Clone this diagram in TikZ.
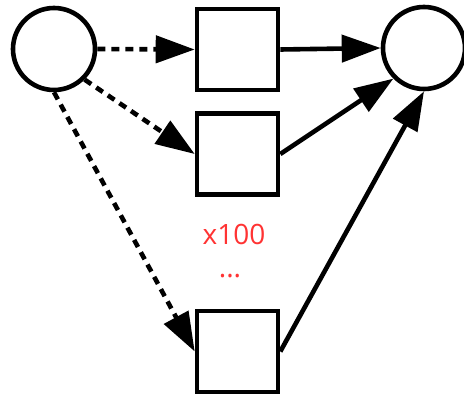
\documentclass[tikz,border=0pt]{standalone}
\usepackage{fontspec}
\setmainfont{Open Sans}
\usetikzlibrary{arrows.meta}
\definecolor{lblred}{RGB}{255,51,51}
\begin{document}
\begin{tikzpicture}[x=1pt,y=-1pt,
  lw/.style={line width=4.6pt},
  circ/.style={lw,draw,circle,minimum size=82pt,inner sep=0pt},
  sq/.style={lw,draw,rectangle,minimum size=81pt,inner sep=0pt},
  arr/.style={lw,-{Triangle[length=39pt,width=27pt]}},
  darr/.style={arr,dash pattern=on 8pt off 6pt},
  lbl/.style={text=lblred,font=\fontsize{28}{30}\selectfont,inner sep=0pt,anchor=base}]
\useasboundingbox (0,0) rectangle (464,398);
\node[circ] (src) at (54,49) {};
\node[circ] (dst) at (424,48) {};
\node[sq] (b1) at (237.5,49.5) {};
\node[sq] (b2) at (237.5,154) {};
\node[sq] (b3) at (237.5,351.5) {};
\node[lbl] (t1) at (234,245) {x100};
\node[lbl] (t2) at (230,278) {...};
\draw[darr] (src.east) -- (b1.west);
\draw[darr] (src.south east) -- (b2.west);
\draw[darr] (src.south) -- (b3.west);
\draw[arr] (b1.east) -- (dst.west);
\draw[arr] (b2.east) -- (dst.south west);
\draw[arr] (b3.east) -- (dst.south);
\end{tikzpicture}
\end{document}
